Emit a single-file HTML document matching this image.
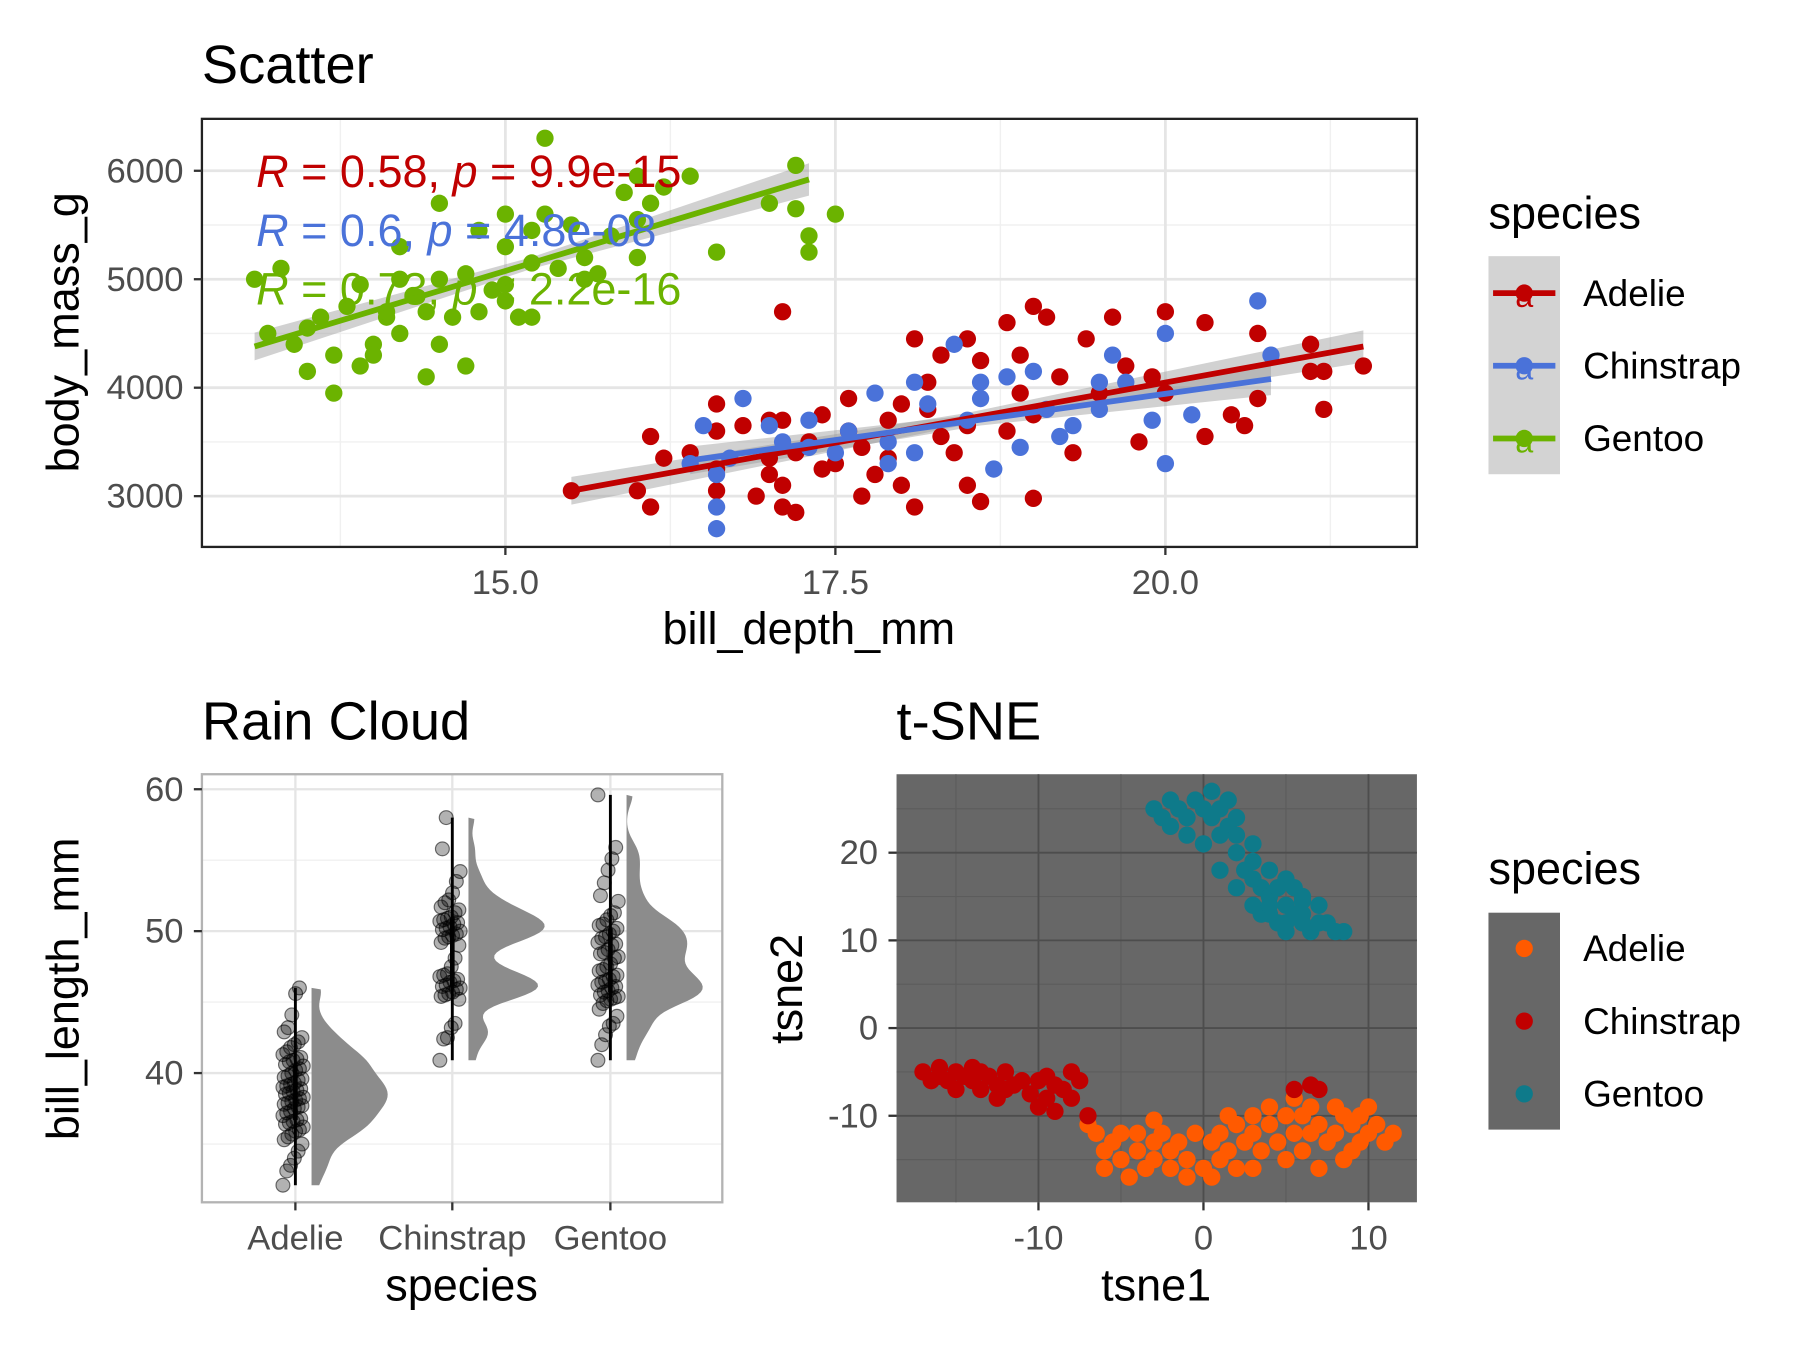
<!DOCTYPE html>
<html><head><meta charset="utf-8"><style>
html,body{margin:0;padding:0;background:#fff}
svg{display:block;font-family:"Liberation Sans",sans-serif}
</style></head><body>
<svg id="fig" width="1800" height="1350" viewBox="0 0 1560 1170" xmlns="http://www.w3.org/2000/svg"></svg>
<script>
// ---- Scatter data ----
const scatterCategories=["Adelie","Chinstrap","Gentoo"];
const adelieDepth=[15.5,16.0,16.1,16.1,16.2,16.6,16.6,16.6,16.6,16.9,17.0,17.0,17.1,17.1,17.2,17.2,17.3,17.4,17.5,17.6,17.6,17.7,17.8,17.9,17.9,18.0,18.0,18.1,18.1,18.2,18.3,18.3,18.4,18.5,18.5,18.5,18.6,18.6,18.8,18.8,18.9,19.0,19.0,19.1,19.2,19.3,19.4,19.5,19.6,19.7,19.8,19.9,20.0,20.0,20.3,20.3,20.5,20.6,20.7,20.7,21.1,21.1,21.2,21.2,21.5,17.1,16.8,17.4,18.2,17.0,17.7,16.4,19.0,18.9,17.1];
const adelieMass=[3050,3050,2900,3550,3350,3050,3250,3600,3850,3000,3700,3200,2900,3100,2850,3400,3500,3250,3300,3900,3600,3450,3200,3700,3350,3100,3850,2900,4450,3800,3550,4300,3400,3650,4450,3100,4250,2950,3600,4600,4300,3750,4750,4650,4100,3400,4450,3950,4650,4200,3500,4100,4700,3950,3550,4600,3750,3650,3900,4500,4400,4150,3800,4150,4200,3700,3650,3750,4050,3350,3000,3400,2980,3950,4700];
const chinDepth=[16.4,16.5,16.6,16.6,16.6,16.7,16.8,17.0,17.1,17.3,17.5,17.6,17.8,17.9,17.9,18.1,18.1,18.2,18.4,18.5,18.6,18.7,18.8,18.9,19.0,19.1,19.2,19.3,19.5,19.5,19.6,19.7,19.9,20.0,20.0,20.2,20.7,20.8,18.6,17.3];
const chinMass=[3300,3650,2700,2900,3200,3350,3900,3650,3500,3700,3400,3600,3950,3500,3300,3400,4050,3850,4400,3700,3900,3250,4100,3450,4150,3800,3550,3650,3800,4050,4300,4050,3700,4500,3300,3750,4800,4300,4050,3450];
const gentDepth=[13.1,13.2,13.3,13.4,13.5,13.5,13.7,13.7,13.8,13.9,13.9,14.0,14.0,14.1,14.2,14.2,14.3,14.4,14.4,14.5,14.5,14.6,14.7,14.7,14.8,14.9,15.0,15.0,15.1,15.2,15.2,15.3,15.3,15.4,15.5,15.6,15.7,15.8,15.9,16.0,16.0,16.1,16.2,16.4,16.6,17.0,17.2,17.2,17.3,17.3,17.5,14.2,14.5,15.0,14.8,15.6,16.0,13.6,14.1,15.0,15.2];
const gentMass=[5000,4500,5100,4400,4150,4550,4300,3950,4750,4200,4950,4400,4300,4650,5000,4500,4850,4100,4700,5000,4400,4650,4200,5050,4700,4900,5300,4800,4650,5450,5150,5600,6300,5100,5500,5200,5050,5400,5800,5950,5550,5700,5850,5950,5250,5700,6050,5650,5400,5250,5600,5300,5700,5600,5450,5000,5200,4650,4700,4950,4650];
const fitX0=[15.5,16.4,13.1];
const fitX1=[21.5,20.8,17.3];
const fitY0=[3050,3330,4380];
const fitY1=[4380,4080,5920];
const statLabels=["0.58, ","0.6, ","0.73, "];
const statP=["= 9.9e-15","= 4.8e-08","< 2.2e-16"];
const xTicks=[15,17.5,20];
const xTickLabels=["15.0","17.5","20.0"];
const yTicks=[3000,4000,5000,6000];
// ---- Rain cloud data ----
const rainCategories=["Adelie","Chinstrap","Gentoo"];
const rainAdelie=[32.1,33.1,33.5,34.0,34.5,35.0,35.3,35.5,35.7,35.9,36.0,36.2,36.4,36.5,36.6,36.7,36.8,37.0,37.2,37.3,37.5,37.6,37.7,37.8,37.9,38.0,38.1,38.2,38.3,38.5,38.6,38.7,38.8,38.9,39.0,39.1,39.2,39.3,39.5,39.6,39.7,39.8,40.0,40.2,40.3,40.5,40.6,40.8,40.9,41.0,41.1,41.3,41.5,41.8,42.0,42.2,42.5,42.9,43.2,44.1,45.6,46.0];
const rainChinstrap=[40.9,42.4,42.5,43.2,43.5,45.2,45.4,45.5,45.6,45.7,45.9,46.0,46.1,46.2,46.4,46.5,46.6,46.8,46.9,47.0,47.5,48.1,49.0,49.2,49.5,49.6,49.7,49.8,50.0,50.1,50.2,50.3,50.5,50.6,50.7,50.8,50.9,51.0,51.3,51.5,51.7,52.0,52.2,52.7,53.5,54.2,55.8,58.0];
const rainGentoo=[40.9,42.0,42.7,43.3,43.5,44.0,44.5,44.9,45.1,45.2,45.3,45.4,45.5,45.7,45.8,46.0,46.1,46.2,46.4,46.5,46.6,46.8,46.9,47.2,47.3,47.5,47.7,48.1,48.2,48.4,48.5,48.7,49.0,49.1,49.2,49.5,49.6,49.8,50.0,50.2,50.4,50.5,50.8,51.1,51.3,52.1,52.5,53.4,54.3,55.1,55.9,59.6];
const rainYTicks=[40,50,60];
// ---- t-SNE data ----
const tsneCategories=["Adelie","Chinstrap","Gentoo"];
const tsneAdelieX=[-7,-6.5,-6,-5.5,-5,-5,-4.5,-4,-4,-3.5,-3,-3,-2.5,-2,-2,-1.5,-1,-1,-0.5,0,0.5,0.5,1,1,1.5,2,2,2.5,3,3,3.5,4,4,4.5,5,5,5.5,5.5,6,6,6.5,6.5,7,7,7.5,8,8,8.5,9,9,9.5,10,10,10.5,11,11.5,-6,-3,1.5,3,8.5,9.5];
const tsneAdelieY=[-11,-12,-14,-13,-15,-12,-17,-14,-12,-16,-13,-15,-12,-14,-16,-13,-17,-15,-12,-16,-13,-17,-12,-15,-14,-11,-16,-13,-10,-12,-14,-9,-11,-13,-10,-15,-8,-12,-10,-14,-9,-12,-11,-16,-13,-9,-12,-10,-14,-11,-13,-9,-12,-11,-13,-12,-16,-10.5,-10,-16,-15,-10];
const tsneChinX=[-17,-16.5,-16,-15.5,-15,-15,-14.5,-14,-14,-13.5,-13,-12.5,-12,-12,-11,-10.5,-10,-10,-9.5,-9,-9,-8.5,-8,-8,-7.5,-7,-11.5,-13.5,-9.5,5.5,7,6.5,-16,-12.5];
const tsneChinY=[-5,-6,-4.5,-6,-5,-7,-5.5,-6,-4.5,-7,-5.5,-6.5,-5,-7,-6,-7.5,-6,-9,-8,-6.5,-9.5,-7,-5,-8,-6,-10,-6.5,-5,-5.5,-7,-7,-6.5,-5.5,-8];
const tsneGentX=[-3,-2,-1,-0.5,0,0.5,1,1.5,-2,-1,0,1,2,2,3,3,2.5,4,3.5,4,5,5,5.5,6,6,7,6.5,7.5,8,8.5,4.5,5,4,3,2,1,3,4.5,2,1.5,0.5,-1.5,-2.5,6,7,5.5,3.5,4,5,6];
const tsneGentY=[25,26,24,26,25,24,25,23,23,22,21,22,20,22,19,21,18,18,16,15,17,14,13,12,15,14,11,12,11,11,12,11,13,14,16,18,17,16,24,26,27,25,24,13,12,16,13,14,12,14.5];
const tsneXTicks=[-10,0,10];
const tsneYTicks=[-10,0,10,20];

const NS="http://www.w3.org/2000/svg";
const svg=document.getElementById('fig');
function mk(tag,attrs,parent){const e=document.createElementNS(NS,tag);for(const k in attrs)e.setAttribute(k,attrs[k]);(parent||svg).appendChild(e);return e;}
function txt(s,attrs,parent){const e=mk('text',attrs,parent);e.textContent=s;return e;}
const TICK=30, AX=39, TITLE=47, LEG=32;

// ===== Scatter =====
const sx=v=>438+(v-15)*114.4, sy=v=>430-(v-3000)*0.094;
const SL=175,SR=1228,ST=103,SB=474;
const colS=["#C00000","#4A72D9","#6BB300"];
const gS=mk('g',{});

mk('rect',{x:SL,y:ST,width:SR-SL,height:SB-ST,fill:'#fff'},gS);
[13.75,16.25,18.75,21.25].forEach(v=>mk('line',{x1:sx(v),x2:sx(v),y1:ST,y2:SB,stroke:'#f0f0f0','stroke-width':1.2},gS));
[2500,3500,4500,5500].forEach(v=>{if(sy(v)<SB)mk('line',{x1:SL,x2:SR,y1:sy(v),y2:sy(v),stroke:'#f0f0f0','stroke-width':1.2},gS)});
xTicks.forEach(v=>mk('line',{x1:sx(v),x2:sx(v),y1:ST,y2:SB,stroke:'#e5e5e5','stroke-width':2.4},gS));
yTicks.forEach(v=>mk('line',{x1:SL,x2:SR,y1:sy(v),y2:sy(v),stroke:'#e5e5e5','stroke-width':2.4},gS));
const sets=[[adelieDepth,adelieMass],[chinDepth,chinMass],[gentDepth,gentMass]];
for(let s=0;s<3;s++){
  const x0=sx(fitX0[s]),x1=sx(fitX1[s]),y0=sy(fitY0[s]),y1=sy(fitY1[s]);
  const band=mk('polygon',{points:`${x0},${y0-12} ${(x0+x1)/2},${(y0+y1)/2-5} ${x1},${y1-14} ${x1},${y1+14} ${(x0+x1)/2},${(y0+y1)/2+5} ${x0},${y0+12}`,fill:'#999',opacity:0.45},gS);
  
  
}
for(let s=0;s<3;s++){
  const [xs,ys]=sets[s];
  for(let i=0;i<xs.length;i++){
    const c=mk('circle',{cx:sx(xs[i]),cy:sy(ys[i]),r:7.5,fill:colS[s]},gS);
    
    
  }
}
for(let s=0;s<3;s++){
  const l=mk('line',{x1:sx(fitX0[s]),y1:sy(fitY0[s]),x2:sx(fitX1[s]),y2:sy(fitY1[s]),stroke:colS[s],'stroke-width':5},gS);
  
  
}
for(let s=0;s<3;s++){
  const t=mk('text',{x:222,y:162+s*51,fill:colS[s],'font-size':39},gS);
  
  
  t.innerHTML=`<tspan font-style="italic">R</tspan> = ${statLabels[s]}<tspan font-style="italic">p</tspan> ${statP[s]}`;
}
mk('rect',{x:SL,y:ST,width:SR-SL,height:SB-ST,fill:'none',stroke:'#222','stroke-width':2},gS);
xTicks.forEach((v,i)=>{mk('line',{x1:sx(v),x2:sx(v),y1:SB,y2:SB+7,stroke:'#333','stroke-width':2},gS);
  const t=txt(xTickLabels[i],{x:sx(v),y:SB+41,'text-anchor':'middle','font-size':TICK,fill:'#4d4d4d'},gS);});
yTicks.forEach(v=>{mk('line',{x1:SL-7,x2:SL,y1:sy(v),y2:sy(v),stroke:'#333','stroke-width':2},gS);
  const t=txt(String(v),{x:SL-16,y:sy(v)+10,'text-anchor':'end','font-size':TICK,fill:'#4d4d4d'},gS);});
txt('Scatter',{x:175,y:72,'font-size':TITLE,fill:'#000',});
txt('bill_depth_mm',{x:701,y:558,'text-anchor':'middle','font-size':AX,});
txt('body_mass_g',{x:0,y:0,transform:'translate(68,288) rotate(-90)','text-anchor':'middle','font-size':AX,});
// legend 1
const lg1=mk('g',{});
txt('species',{x:1290,y:198,'font-size':AX},lg1);
mk('rect',{x:1290,y:222,width:62,height:189,fill:'#d3d3d3'},lg1);
scatterCategories.forEach((n,i)=>{const y=254+i*63;const g=mk('g',{},lg1);
  
  mk('line',{x1:1294,x2:1348,y1:y,y2:y,stroke:colS[i],'stroke-width':5},g);
  mk('circle',{cx:1321,cy:y,r:7.5,fill:colS[i]},g);
  txt('a',{x:1321,y:y+12,'text-anchor':'middle','font-size':28,fill:colS[i]},g);
  txt(n,{x:1372,y:y+11,'font-size':LEG},g);});

// ===== Rain cloud =====
const RL=175,RR=626,RT=671,RB=1042;
const ry=v=>930-(v-40)*12.3;
const rxC=[256,392,529];
const gR=mk('g',{});
mk('rect',{x:RL,y:RT,width:RR-RL,height:RB-RT,fill:'#fff'},gR);
[35,45,55].forEach(v=>mk('line',{x1:RL,x2:RR,y1:ry(v),y2:ry(v),stroke:'#f0f0f0','stroke-width':1.2},gR));
rainYTicks.forEach(v=>mk('line',{x1:RL,x2:RR,y1:ry(v),y2:ry(v),stroke:'#e5e5e5','stroke-width':2},gR));
rxC.forEach(x=>mk('line',{x1:x,x2:x,y1:RT,y2:RB,stroke:'#e5e5e5','stroke-width':2},gR));
const rainSets=[rainAdelie,rainChinstrap,rainGentoo];
rainSets.forEach((vals,s)=>{
  const cx=rxC[s];const lo=Math.min(...vals),hi=Math.max(...vals);const bw=0.75;
  const dens=[];for(let v=lo;v<=hi+0.01;v+=0.2){let d=0;vals.forEach(u=>{d+=Math.exp(-0.5*((v-u)/bw)**2)});dens.push([v,d]);}
  const mx=Math.max(...dens.map(d=>d[1]));
  let pts=dens.map(([v,d])=>`${cx+14+d/mx*66},${ry(v)}`);pts.push(`${cx+14},${ry(hi)}`);pts.unshift(`${cx+14},${ry(lo)}`);
  const p=mk('polygon',{points:pts.join(' '),fill:'#8c8c8c'},gR);
  
  const srt=[...vals].sort((a,b)=>a-b);
  const q1=srt[Math.floor(srt.length*0.25)],q3=srt[Math.floor(srt.length*0.75)];
  const w=mk('line',{x1:cx,x2:cx,y1:ry(srt[0]),y2:ry(srt[srt.length-1]),stroke:'#000','stroke-width':2.5},gR);
  
  const b=mk('rect',{x:cx-2,y:ry(q3),width:4,height:ry(q1)-ry(q3),fill:'#000'},gR);
  
  vals.forEach((v,i)=>{const jx=((i*37)%17-8)*1.1;
    const c=mk('circle',{cx:cx-2+jx,cy:ry(v),r:6,fill:'rgba(0,0,0,0.3)',stroke:'rgba(0,0,0,0.55)','stroke-width':1},gR);
    });
});
mk('rect',{x:RL,y:RT,width:RR-RL,height:RB-RT,fill:'none',stroke:'#b3b3b3','stroke-width':2},gR);
rainYTicks.forEach(v=>{mk('line',{x1:RL-7,x2:RL,y1:ry(v),y2:ry(v),stroke:'#333','stroke-width':2},gR);
  const t=txt(String(v),{x:RL-16,y:ry(v)+10,'text-anchor':'end','font-size':TICK,fill:'#4d4d4d'},gR);});
rainCategories.forEach((n,i)=>{mk('line',{x1:rxC[i],x2:rxC[i],y1:RB,y2:RB+7,stroke:'#333','stroke-width':2},gR);
  const t=txt(n,{x:rxC[i],y:RB+41,'text-anchor':'middle','font-size':TICK,fill:'#4d4d4d'},gR);});
txt('Rain Cloud',{x:175,y:641,'font-size':TITLE,});
txt('species',{x:400,y:1127,'text-anchor':'middle','font-size':AX,});
txt('bill_length_mm',{x:0,y:0,transform:'translate(68,857) rotate(-90)','text-anchor':'middle','font-size':AX,});

// ===== t-SNE =====
const TL=777,TR=1228,TT=671,TB=1042;
const tx=v=>1043+v*14.3, ty=v=>891-v*7.6;
const colT=["#FF5A00","#C00000","#0E7A8A"];
const gT=mk('g',{});
mk('rect',{x:TL,y:TT,width:TR-TL,height:TB-TT,fill:'#676767'},gT);
[-15,-5,5].forEach(v=>mk('line',{x1:tx(v),x2:tx(v),y1:TT,y2:TB,stroke:'#5c5c5c','stroke-width':1},gT));
[-15,-5,5,15,25].forEach(v=>mk('line',{x1:TL,x2:TR,y1:ty(v),y2:ty(v),stroke:'#5c5c5c','stroke-width':1},gT));
tsneXTicks.forEach(v=>mk('line',{x1:tx(v),x2:tx(v),y1:TT,y2:TB,stroke:'#4d4d4d','stroke-width':1.6},gT));
tsneYTicks.forEach(v=>mk('line',{x1:TL,x2:TR,y1:ty(v),y2:ty(v),stroke:'#4d4d4d','stroke-width':1.6},gT));
const tsets=[[tsneAdelieX,tsneAdelieY],[tsneChinX,tsneChinY],[tsneGentX,tsneGentY]];
tsets.forEach(([xs,ys],s)=>{for(let i=0;i<xs.length;i++){
  const c=mk('circle',{cx:tx(xs[i]),cy:ty(ys[i]),r:7.5,fill:colT[s]},gT);
  }});
tsneXTicks.forEach(v=>{mk('line',{x1:tx(v),x2:tx(v),y1:TB,y2:TB+7,stroke:'#333','stroke-width':2},gT);
  const t=txt(String(v),{x:tx(v),y:TB+41,'text-anchor':'middle','font-size':TICK,fill:'#4d4d4d'},gT);});
tsneYTicks.forEach(v=>{mk('line',{x1:TL-7,x2:TL,y1:ty(v),y2:ty(v),stroke:'#333','stroke-width':2},gT);
  const t=txt(String(v),{x:TL-16,y:ty(v)+10,'text-anchor':'end','font-size':TICK,fill:'#4d4d4d'},gT);});
txt('t-SNE',{x:777,y:641,'font-size':TITLE,});
txt('tsne1',{x:1002,y:1127,'text-anchor':'middle','font-size':AX,});
txt('tsne2',{x:0,y:0,transform:'translate(695,857) rotate(-90)','text-anchor':'middle','font-size':AX,});
const lg2=mk('g',{});
txt('species',{x:1290,y:766,'font-size':AX},lg2);
mk('rect',{x:1290,y:791,width:62,height:188,fill:'#676767'},lg2);
tsneCategories.forEach((n,i)=>{const y=822+i*63;const g=mk('g',{},lg2);
  
  mk('circle',{cx:1321,cy:y,r:7.5,fill:colT[i]},g);
  txt(n,{x:1372,y:y+11,'font-size':LEG},g);});
</script>
</body></html>
